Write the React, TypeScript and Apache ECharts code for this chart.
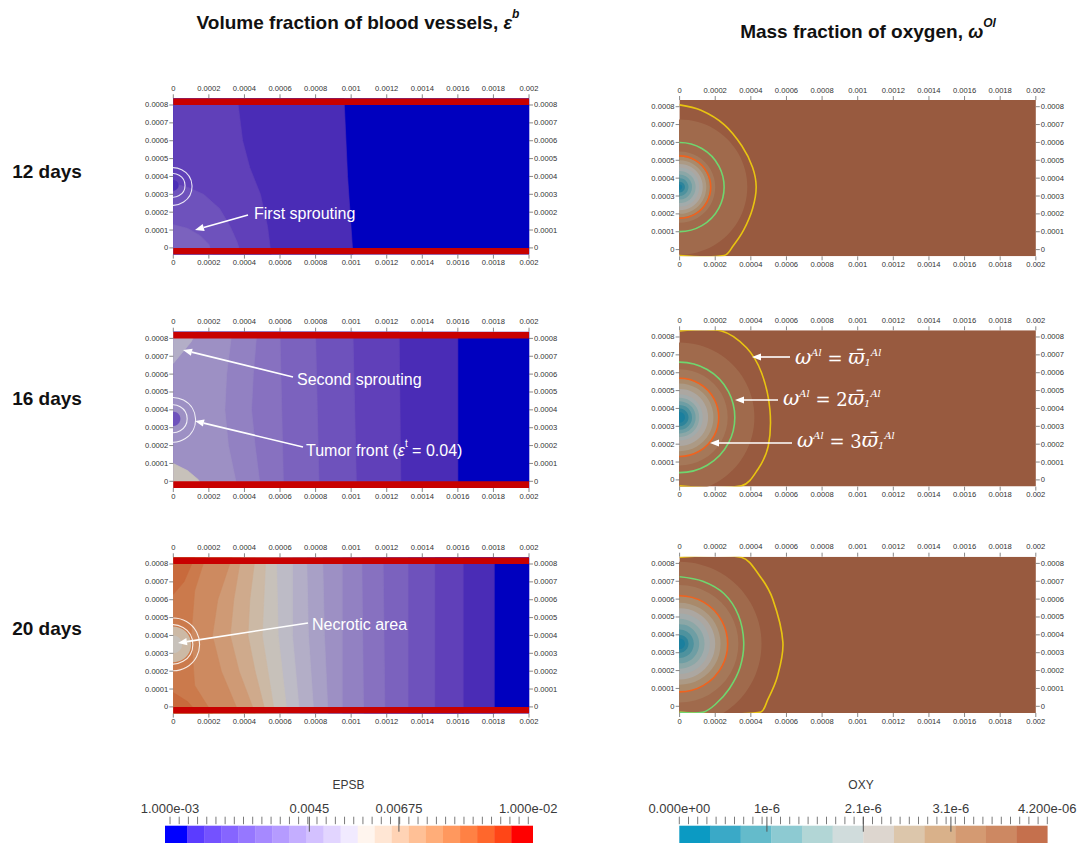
import React, { useEffect, useRef } from "react";
import * as echarts from "echarts";

// ---------------- axes ----------------
const X_TICKS = [0, 0.0002, 0.0004, 0.0006, 0.0008, 0.001, 0.0012, 0.0014, 0.0016, 0.0018, 0.002];
const Y_TICKS = [0, 0.0001, 0.0002, 0.0003, 0.0004, 0.0005, 0.0006, 0.0007, 0.0008];
const X_RANGE = [0, 0.002];
const Y_BOT = -0.0000375;
const Y_TOP = 0.0008375;
const VESSELS = [[0.0008, Y_TOP], [Y_BOT, 0]];
const ROW_LABELS = ["12 days", "16 days", "20 days"];
const TUMOR_CY = 0.00035;

// ---------------- colour maps ----------------
const EPSB_RANGE = [0.001, 0.01];
const EPSB_AXIS = [0.000874, 0.010111];
const EPSB_LABEL_VALUES = [0.001, 0.0045, 0.00675, 0.01];
const EPSB_LABEL_TEXT = ["1.000e-03", "0.0045", "0.00675", "1.000e-02"];
const EPSB_MAJOR = [0.0045, 0.00675];
const EPSB_BAR = ["#0000ff", "#5b3cff", "#7452ff", "#8665ff", "#9677ff", "#a689ff", "#b59bff", "#c4aeff", "#d3c1ff", "#e2d5ff", "#f1eaff", "#fff5ee", "#ffe6d4", "#ffd3b5", "#ffc096", "#ffad79", "#ff985e", "#ff8144", "#ff672c", "#ff4617", "#ff0000"];
const EPSB_SHADED = ["#0000bf", "#4a2cb6", "#6040b9", "#6e52bc", "#7b62be", "#8771c0", "#9281c2", "#9d90c4", "#a8a0c6", "#b3aec7", "#bdbbc6", "#c7c1ba", "#ccb9a5", "#cfaa8c", "#cf9a75", "#cd8a60", "#cb7a4c", "#c86a3c", "#c55a2e", "#c24a22", "#c80000"];

const OXY_RANGE = [0, 4.2e-6];
const OXY_LABEL_VALUES = [0, 1e-6, 2.1e-6, 3.1e-6, 4.2e-6];
const OXY_LABEL_TEXT = ["0.000e+00", "1e-6", "2.1e-6", "3.1e-6", "4.200e-06"];
const OXY_MAJOR = [1e-6, 2.1e-6, 3.1e-6];
const OXY_BAR = ["#0b9ac3", "#3aa9c7", "#64bbcb", "#8dcad2", "#b2d6d6", "#d0dcdc", "#ddd6cf", "#dcc6ab", "#d9b18a", "#d49a72", "#cd8862", "#c5704d"];
const OXY_SHADED = ["#1a7f9e", "#2d849b", "#4e929e", "#6e9ea4", "#8ba7a7", "#a2abab", "#aca7a1", "#ac9a85", "#a98a6b", "#a57859", "#a06a4c", "#985a3f"];

// ---------------- EPSB fields (band edges, right to left) ----------------
const EPS12_LEVELS = [0, 1, 2, 3, 4];
const EPS12_EDGES = [
  [[0.002, Y_TOP], [0.002, Y_BOT]],
  [[0.00096, Y_TOP], [0.00098, 0.0004], [0.00101, Y_BOT]],
  [[0.00036, Y_TOP], [0.00039, 0.0006], [0.00043, 0.00045], [0.00049, 0.0003], [0.00053, 0.00012], [0.00055, Y_BOT]],
  [[0, 0.00036], [0.00008, 0.00034], [0.00017, 0.0003], [0.00026, 0.00022], [0.00032, 0.00012], [0.00036, 0.00003], [0.00038, Y_BOT]],
  [[0, 0.00013], [0.00008, 0.00011], [0.00015, 0.00007], [0.0002, 0.00002], [0.00022, Y_BOT]],
];
const EPS12_RINGS = [0.000105, 0.000066];
const EPS12_CORES = [0.00003];
const EPS12_CORE_LEVELS = [1];

const EPS16_LEVELS = [0, 1, 2, 3, 4, 5, 6, 7, 9, 11];
const EPS16_EDGES = [
  [[0.002, Y_TOP], [0.002, Y_BOT]],
  [[0.0016, Y_TOP], [0.0016, Y_BOT]],
  [[0.00127, Y_TOP], [0.00128, Y_BOT]],
  [[0.00101, Y_TOP], [0.00102, 0.0004], [0.00103, Y_BOT]],
  [[0.0008, Y_TOP], [0.00081, 0.0004], [0.00082, Y_BOT]],
  [[0.0006, Y_TOP], [0.00061, 0.0004], [0.00062, Y_BOT]],
  [[0.00047, Y_TOP], [0.00045, 0.0006], [0.00044, 0.0004], [0.00046, 0.0002], [0.00049, Y_BOT]],
  [[0.00033, Y_TOP], [0.0003, 0.0006], [0.00029, 0.0004], [0.00031, 0.0002], [0.00036, Y_BOT]],
  [[0, 0.00066], [0.00005, 0.00072], [0.0001, 0.00078], [0.00013, Y_TOP]],
  [[0, 0.0001], [0.00008, 0.00006], [0.00014, 0.00001], [0.00017, Y_BOT]],
];
const EPS16_RINGS = [0.000125, 0.000078];
const EPS16_CORES = [0.00004];
const EPS16_CORE_LEVELS = [3];

const EPS20_LEVELS = [0, 1, 2, 3, 4, 5, 6, 7, 8, 9, 10, 11, 12, 13, 14, 15, 16, 17, 17];
const EPS20_EDGES = [
  [[0.002, Y_TOP], [0.002, Y_BOT]],
  [[0.001805, Y_TOP], [0.001805, Y_BOT]],
  [[0.00163, Y_TOP], [0.00163, Y_BOT]],
  [[0.00147, Y_TOP], [0.00147, Y_BOT]],
  [[0.00132, Y_TOP], [0.00132, Y_BOT]],
  [[0.00118, Y_TOP], [0.00119, Y_BOT]],
  [[0.00106, Y_TOP], [0.00107, Y_BOT]],
  [[0.00095, Y_TOP], [0.00095, Y_BOT]],
  [[0.00084, Y_TOP], [0.00085, 0.0004], [0.00087, Y_BOT]],
  [[0.00075, Y_TOP], [0.00076, 0.0004], [0.00079, Y_BOT]],
  [[0.00067, Y_TOP], [0.00067, 0.0004], [0.00071, Y_BOT]],
  [[0.00058, Y_TOP], [0.00059, 0.0004], [0.00064, Y_BOT]],
  [[0.00052, Y_TOP], [0.0005, 0.0004], [0.00057, Y_BOT]],
  [[0.00046, Y_TOP], [0.00043, 0.0006], [0.00042, 0.0004], [0.00046, 0.0002], [0.00052, Y_BOT]],
  [[0.00038, Y_TOP], [0.00034, 0.0006], [0.00032, 0.0004], [0.00037, 0.0002], [0.00046, Y_BOT]],
  [[0.00033, Y_TOP], [0.00025, 0.0006], [0.00022, 0.0004], [0.00027, 0.0002], [0.00037, Y_BOT]],
  [[0.00018, Y_TOP], [0.00012, 0.00065], [0.0001, 0.0004], [0.00012, 0.00012], [0.00022, Y_BOT]],
  [[0, 0.00063], [0.00006, 0.0007], [0.00012, Y_TOP]],
  [[0, 0.00008], [0.00008, 0.00003], [0.00014, Y_BOT]],
];
const EPS20_RINGS = [0.000148, 0.00011];
const EPS20_CORES = [0.0001, 0.00005];
const EPS20_CORE_LEVELS = [12, 11];

// ---------------- oxygen fields ----------------
const OXY_BACK_LEVEL = 11;
const OXY12_RADII = [0.00038, 0.0002, 0.00017, 0.00015, 0.00013, 0.00011, 0.00009, 0.00007, 0.00005, 0.00003, 0.000015];
const OXY12_LEVELS = [10, 9, 8, 7, 6, 5, 4, 3, 2, 1, 0];
const OXY16_RADII = [0.00042, 0.00027, 0.00022, 0.00019, 0.00016, 0.00013, 0.00011, 0.00009, 0.00007, 0.00005, 0.00003];
const OXY16_LEVELS = [10, 9, 8, 7, 6, 5, 4, 3, 2, 1, 0];
const OXY20_RADII = [0.00046, 0.00033, 0.00027, 0.00023, 0.0002, 0.00017, 0.00014, 0.00011, 0.00008, 0.00005, 0.00003];
const OXY20_LEVELS = [10, 9, 8, 7, 6, 5, 4, 3, 2, 1, 0];

const OXY12_YELLOW = [[0, 0.00081], [0.00012, 0.00078], [0.00025, 0.0007], [0.00035, 0.00058], [0.00041, 0.00046], [0.00043, 0.00035], [0.00041, 0.00023], [0.00036, 0.00011], [0.0003, 0.00002], [0.00025, -0.000033], [0, -0.000033]];
const OXY12_GREEN = 0.00025;
const OXY12_ORANGE = 0.000175;
const OXY16_YELLOW = [[0, 0.000834], [0.000235, 0.000834], [0.000376, 0.00074], [0.00046, 0.0006], [0.000507, 0.000394], [0.000498, 0.00019], [0.00044, 0.00006], [0.000347, -0.0000335], [0, -0.0000335]];
const OXY16_GREEN = 0.00031;
const OXY16_ORANGE = 0.00022;
const OXY20_YELLOW = [[0, 0.000834], [0.000346, 0.000834], [0.00045, 0.00073], [0.000523, 0.0006], [0.00058, 0.000358], [0.00055, 0.00017], [0.000495, 0.0000376], [0.00045, -0.0000339], [0, -0.0000339]];
const OXY20_GREEN = [[0, 0.000725], [0.00013, 0.0007], [0.00025, 0.00063], [0.00033, 0.00051], [0.00036, 0.00036], [0.00034, 0.00022], [0.00028, 0.0001], [0.0002, 0.00001], [0.00013, -0.0000335], [0, -0.0000335]];
const OXY20_ORANGE = 0.00027;

// ---------------- layout / style ----------------
const FONT = "Liberation Sans, Arial, sans-serif";
const LEFT_COL = { left: 173.3, width: 355.7 };
const RIGHT_COL = { left: 679.6, width: 356.2 };
const LEFT_TOPS = [98.3, 331.7, 557.3];
const RIGHT_TOPS = [100, 330.3, 556.7];
const PANEL_H = 156.3;
const ROW_LABEL_Y = [171, 398, 628];
const YELLOW = "#e8c411";
const GREEN = "#6fd66f";
const ORANGE = "#f0621e";
const TICK = "#6a6a6a";

const fmt = (v: number) => String(+v.toFixed(6));

function buildOption() {
  const grids: any[] = [];
  const xAxes: any[] = [];
  const yAxes: any[] = [];
  const series: any[] = [];
  const lab = { fontSize: 7.6, color: "#333", fontFamily: FONT, hideOverlap: false };

  function addPanel(left: number, top: number, width: number) {
    const g = grids.length;
    grids.push({ left, top, width, height: PANEL_H, containLabel: false, outerBoundsMode: "none" });
    const xi = xAxes.length;
    ["bottom", "top"].forEach((pos) =>
      xAxes.push({
        gridIndex: g, type: "value", position: pos, min: X_RANGE[0], max: X_RANGE[1],
        axisLine: { show: false }, splitLine: { show: false }, axisTick: { show: false },
        axisLabel: { show: true, customValues: X_TICKS, margin: pos === "top" ? 6 : 4, formatter: fmt, ...lab },
      })
    );
    const yi = yAxes.length;
    ["left", "right"].forEach((pos) =>
      yAxes.push({
        gridIndex: g, type: "value", position: pos, min: Y_BOT, max: Y_TOP,
        axisLine: { show: false }, splitLine: { show: false }, axisTick: { show: false },
        axisLabel: { show: true, customValues: Y_TICKS, margin: 5, formatter: fmt, ...lab },
      })
    );
    // tick marks drawn through the panel's own scales
    const tickData = [
      ...X_TICKS.map((v) => [v, 0]), ...X_TICKS.map((v) => [v, 1]),
      ...Y_TICKS.map((v) => [v, 2]), ...Y_TICKS.map((v) => [v, 3]),
    ];
    series.push({
      type: "custom", xAxisIndex: xi, yAxisIndex: yi, clip: false, silent: true, z: 5,
      data: tickData,
      renderItem: (params: any, api: any) => {
        const v = api.value(0);
        const side = api.value(1);
        let p: number[];
        let q: number[];
        if (side === 0) { p = api.coord([v, Y_TOP]); q = [p[0], p[1] - 4]; }
        else if (side === 1) { p = api.coord([v, Y_BOT]); q = [p[0], p[1] + 4]; }
        else if (side === 2) { p = api.coord([X_RANGE[0], v]); q = [p[0] - 4, p[1]]; }
        else { p = api.coord([X_RANGE[1], v]); q = [p[0] + 4, p[1]]; }
        return { type: "line", shape: { x1: p[0], y1: p[1], x2: q[0], y2: q[1] }, style: { stroke: TICK, lineWidth: 0.8 } };
      },
    });
    return { xi, yi };
  }

  const circle = (api: any, r: number, fill: string) => {
    const c = api.coord([0, TUMOR_CY]);
    return { type: "circle", shape: { cx: c[0], cy: c[1], r: api.size([r, 0])[0] }, style: { fill } };
  };
  const ring = (api: any, r: number, stroke: string, lw: number) => {
    const c = api.coord([0, TUMOR_CY]);
    return { type: "circle", shape: { cx: c[0], cy: c[1], r: api.size([r, 0])[0] }, style: { fill: "none", stroke, lineWidth: lw } };
  };

  const LEFT = [
    { levels: EPS12_LEVELS, edges: EPS12_EDGES, rings: EPS12_RINGS, cores: EPS12_CORES, coreLevels: EPS12_CORE_LEVELS },
    { levels: EPS16_LEVELS, edges: EPS16_EDGES, rings: EPS16_RINGS, cores: EPS16_CORES, coreLevels: EPS16_CORE_LEVELS },
    { levels: EPS20_LEVELS, edges: EPS20_EDGES, rings: EPS20_RINGS, cores: EPS20_CORES, coreLevels: EPS20_CORE_LEVELS },
  ];
  LEFT.forEach((p, r) => {
    const { xi, yi } = addPanel(LEFT_COL.left, LEFT_TOPS[r], LEFT_COL.width);
    series.push({
      type: "custom", xAxisIndex: xi, yAxisIndex: yi, clip: true, silent: true,
      data: p.edges.map((_, i) => [i, 0]),
      renderItem: (params: any, api: any) => {
        const pts = p.edges[params.dataIndex];
        const first = pts[0];
        const last = pts[pts.length - 1];
        const poly = [...pts, [X_RANGE[0], last[1]], [X_RANGE[0], first[1]]].map((q) => api.coord(q));
        const col = EPSB_SHADED[p.levels[params.dataIndex]];
        return { type: "polygon", shape: { points: poly }, style: { fill: col, stroke: col, lineWidth: 0.6 } };
      },
    });
    series.push({
      type: "custom", xAxisIndex: xi, yAxisIndex: yi, clip: true, silent: true,
      data: p.cores.map((c, i) => [i, 0]),
      renderItem: (params: any, api: any) => circle(api, p.cores[params.dataIndex], EPSB_SHADED[p.coreLevels[params.dataIndex]]),
    });
    series.push({
      type: "custom", xAxisIndex: xi, yAxisIndex: yi, clip: true, silent: true,
      data: p.rings.map((c, i) => [i, 0]),
      renderItem: (params: any, api: any) => ring(api, p.rings[params.dataIndex], "rgba(255,255,255,0.85)", 1.1),
    });
    series.push({
      type: "custom", xAxisIndex: xi, yAxisIndex: yi, clip: true, silent: true,
      data: VESSELS.map((v, i) => [i, 0]),
      renderItem: (params: any, api: any) => {
        const v = VESSELS[params.dataIndex];
        const a = api.coord([X_RANGE[0], v[1]]);
        const b = api.coord([X_RANGE[1], v[0]]);
        return { type: "rect", shape: { x: a[0], y: a[1], width: b[0] - a[0], height: b[1] - a[1] }, style: { fill: EPSB_SHADED[EPSB_SHADED.length - 1] } };
      },
    });
  });

  const RIGHT = [
    { radii: OXY12_RADII, levels: OXY12_LEVELS, lines: [OXY12_YELLOW, OXY12_GREEN, OXY12_ORANGE] },
    { radii: OXY16_RADII, levels: OXY16_LEVELS, lines: [OXY16_YELLOW, OXY16_GREEN, OXY16_ORANGE] },
    { radii: OXY20_RADII, levels: OXY20_LEVELS, lines: [OXY20_YELLOW, OXY20_GREEN, OXY20_ORANGE] },
  ];
  const lineColors = [YELLOW, GREEN, ORANGE];
  RIGHT.forEach((p, r) => {
    const { xi, yi } = addPanel(RIGHT_COL.left, RIGHT_TOPS[r], RIGHT_COL.width);
    series.push({
      type: "custom", xAxisIndex: xi, yAxisIndex: yi, clip: true, silent: true,
      data: [[0, 0]],
      renderItem: (params: any, api: any) => {
        const a = api.coord([X_RANGE[0], Y_TOP]);
        const b = api.coord([X_RANGE[1], Y_BOT]);
        return { type: "rect", shape: { x: a[0], y: a[1], width: b[0] - a[0], height: b[1] - a[1] }, style: { fill: OXY_SHADED[OXY_BACK_LEVEL] } };
      },
    });
    series.push({
      type: "custom", xAxisIndex: xi, yAxisIndex: yi, clip: true, silent: true,
      data: p.radii.map((c, i) => [i, 0]),
      renderItem: (params: any, api: any) => circle(api, p.radii[params.dataIndex], OXY_SHADED[p.levels[params.dataIndex]]),
    });
    series.push({
      type: "custom", xAxisIndex: xi, yAxisIndex: yi, clip: true, silent: true,
      data: p.lines.map((c, i) => [i, 0]),
      renderItem: (params: any, api: any) => {
        const shape: any = p.lines[params.dataIndex];
        const col = lineColors[params.dataIndex];
        if (typeof shape === "number") return ring(api, shape, col, 1.6);
        return { type: "polyline", shape: { points: shape.map((q: number[]) => api.coord(q)), smooth: 0.35 }, style: { fill: "none", stroke: col, lineWidth: 1.6 } };
      },
    });
  });

  // ---------------- colour bars ----------------
  function addBar(left: number, width: number, axis: number[], range: number[], colors: string[], labVals: number[], labText: string[], major: number[], nTicks: number) {
    const g = grids.length;
    grids.push({ left, top: 825.7, width, height: 24, containLabel: false, outerBoundsMode: "none" });
    const minor: number[] = [];
    for (let i = 0; i < nTicks; i++) minor.push(range[0] + ((range[1] - range[0]) * i) / (nTicks - 1));
    const xi = xAxes.length;
    xAxes.push({
      gridIndex: g, type: "value", position: "top", min: axis[0], max: axis[1],
      axisLine: { show: false }, splitLine: { show: false }, axisTick: { show: false },
      axisLabel: {
        show: true, customValues: labVals, margin: 11, fontSize: 13, color: "#3a3a3a", fontFamily: FONT, hideOverlap: false,
        formatter: (v: number) => { const k = labVals.findIndex((q) => Math.abs(q - v) < (range[1] - range[0]) * 1e-4); return k >= 0 ? labText[k] : ""; },
      },
    });
    const yi = yAxes.length;
    yAxes.push({ gridIndex: g, type: "value", min: 0, max: 1, show: false });
    const step = (range[1] - range[0]) / colors.length;
    series.push({
      type: "custom", xAxisIndex: xi, yAxisIndex: yi, silent: true, clip: false, z: 1,
      data: colors.map((c, i) => [i, 0]),
      renderItem: (params: any, api: any) => {
        const i = params.dataIndex;
        const x0 = i === 0 ? axis[0] : range[0] + step * i;
        const x1 = i === colors.length - 1 ? axis[1] : range[0] + step * (i + 1);
        const a = api.coord([x0, 1]);
        const b = api.coord([x1, 0]);
        return { type: "rect", shape: { x: a[0], y: a[1], width: b[0] - a[0] + 0.3, height: b[1] - a[1] }, style: { fill: colors[i] } };
      },
    });
    const tickData = [...minor.map((v) => [v, 0]), ...major.map((v) => [v, 1])];
    series.push({
      type: "custom", xAxisIndex: xi, yAxisIndex: yi, silent: true, clip: false, z: 6,
      data: tickData,
      renderItem: (params: any, api: any) => {
        const p = api.coord([api.value(0), 1]);
        const isMajor = api.value(1) === 1;
        return { type: "line", shape: { x1: p[0], y1: p[1] - 9, x2: p[0], y2: isMajor ? p[1] + 6 : p[1] - 1.5 }, style: { stroke: isMajor ? "#555" : "#7a7a7a", lineWidth: 1 } };
      },
    });
  }
  addBar(165, 367.7, EPSB_AXIS, EPSB_RANGE, EPSB_BAR, EPSB_LABEL_VALUES, EPSB_LABEL_TEXT, EPSB_MAJOR, 40);
  addBar(679.3, 368, OXY_RANGE, OXY_RANGE, OXY_BAR, OXY_LABEL_VALUES, OXY_LABEL_TEXT, OXY_MAJOR, 41);

  // ---------------- texts & annotations ----------------
  const g: any[] = [];
  const txt = (x: number, y: number, text: string, style: any) =>
    g.push({ type: "text", x, y, z: 100, silent: true, style: { text, align: "center", verticalAlign: "middle", ...style } });
  const titleStyle = { fontSize: 19, fontWeight: "bold", fontFamily: FONT, fill: "#111", rich: {
    t: { fontSize: 19, fontWeight: "bold", fontFamily: FONT, fill: "#111", lineHeight: 24, verticalAlign: "bottom" },
    i: { fontSize: 18, fontStyle: "italic", fontWeight: "bold", fontFamily: FONT, fill: "#111", lineHeight: 24, verticalAlign: "bottom" },
    s: { fontSize: 12, fontStyle: "italic", fontWeight: "bold", fontFamily: FONT, fill: "#111", lineHeight: 24, verticalAlign: "top" },
  } };
  txt(358, 20, "{t|Volume fraction of blood vessels, }{i|ε}{s|b}", titleStyle);
  txt(868, 29, "{t|Mass fraction of oxygen, }{i|ω}{s|Ol}", titleStyle);
  ROW_LABELS.forEach((s, i) => txt(47, ROW_LABEL_Y[i], s, { fontSize: 19, fontWeight: "bold", fontFamily: FONT, fill: "#111" }));
  txt(348.5, 785, "EPSB", { fontSize: 12, fontFamily: FONT, fill: "#3a3a3a" });
  txt(861, 785, "OXY", { fontSize: 12, fontFamily: FONT, fill: "#3a3a3a" });

  const white = { fontSize: 16, fontFamily: FONT, fill: "#fff" };
  g.push({ type: "text", x: 254, y: 213, z: 100, silent: true, style: { text: "First sprouting", align: "left", verticalAlign: "middle", ...white } });
  g.push({ type: "text", x: 297, y: 379, z: 100, silent: true, style: { text: "Second sprouting", align: "left", verticalAlign: "middle", ...white } });
  g.push({ type: "text", x: 306, y: 448, z: 100, silent: true, style: { text: "{a|Tumor front (}{i|ε}{s|t}{a| = 0.04)}", align: "left", verticalAlign: "middle", ...white, rich: {
    a: { ...white, lineHeight: 20, verticalAlign: "bottom" },
    i: { ...white, fontStyle: "italic", lineHeight: 20, verticalAlign: "bottom" },
    s: { ...white, fontSize: 10, lineHeight: 20, verticalAlign: "top" },
  } } });
  g.push({ type: "text", x: 312, y: 624, z: 100, silent: true, style: { text: "Necrotic area", align: "left", verticalAlign: "middle", ...white } });

  const serif = { fontFamily: "DejaVu Serif, Liberation Serif, serif", fontStyle: "italic", fill: "#fff" };
  const mathRich = {
    w: { ...serif, fontSize: 20, lineHeight: 20, verticalAlign: "bottom" },
    e: { ...serif, fontStyle: "normal", fontSize: 18, lineHeight: 20, verticalAlign: "bottom" },
    s: { ...serif, fontSize: 10, lineHeight: 12, verticalAlign: "top" },
    b: { ...serif, fontSize: 10, lineHeight: 12, verticalAlign: "bottom" },
  };
  const OXY_NOTES = [
    { x: 795, y: 357, t: "{w|ω}{s|Al}{e| = }{w|ϖ̄}{b|1}{s|Al}" },
    { x: 783, y: 398, t: "{w|ω}{s|Al}{e| = 2}{w|ϖ̄}{b|1}{s|Al}" },
    { x: 797, y: 440, t: "{w|ω}{s|Al}{e| = 3}{w|ϖ̄}{b|1}{s|Al}" },
  ];
  OXY_NOTES.forEach((n) => g.push({ type: "text", x: n.x, y: n.y, z: 100, silent: true, style: { text: n.t, align: "left", verticalAlign: "middle", rich: mathRich, ...serif } }));

  const arrow = (x1: number, y1: number, x2: number, y2: number) => {
    const dx = x2 - x1, dy = y2 - y1;
    const L = Math.hypot(dx, dy);
    const ux = dx / L, uy = dy / L;
    const bx = x2 - ux * 9, by = y2 - uy * 9;
    const nx = -uy * 3.6, ny = ux * 3.6;
    g.push({ type: "line", z: 100, silent: true, shape: { x1, y1, x2: bx, y2: by }, style: { stroke: "#fff", lineWidth: 1.6 } });
    g.push({ type: "polygon", z: 100, silent: true, shape: { points: [[x2, y2], [bx + nx, by + ny], [bx - nx, by - ny]] }, style: { fill: "#fff" } });
  };
  arrow(248, 215, 195, 230);
  arrow(293, 377, 183, 350);
  arrow(303, 447, 195, 421);
  arrow(308, 623, 178, 643);
  arrow(790, 357, 752, 357);
  arrow(778, 400, 735, 400);
  arrow(792, 443, 710, 443);

  return { animation: false, grid: grids, xAxis: xAxes, yAxis: yAxes, series, graphic: g };
}

export default function App() {
  const ref = useRef<HTMLDivElement>(null);
  useEffect(() => {
    document.body.style.margin = "0";
    const chart = echarts.init(ref.current!, null, { renderer: "svg" });
    chart.setOption(buildOption() as any);
    return () => chart.dispose();
  }, []);
  return <div ref={ref} style={{ width: 1081, height: 843, background: "#fff", overflow: "hidden" }} />;
}
